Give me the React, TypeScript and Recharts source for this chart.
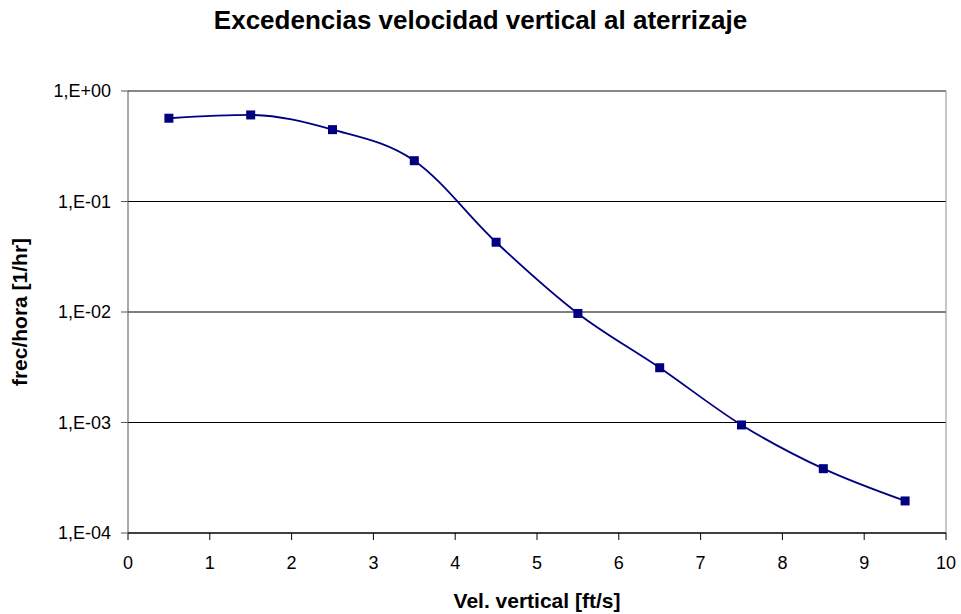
import { LineChart, Line, XAxis, YAxis, CartesianGrid, ReferenceLine } from 'recharts';

const velocidad = [0.5, 1.5, 2.5, 3.5, 4.5, 5.5, 6.5, 7.5, 8.5, 9.5];
const frecuencia = [0.567, 0.607, 0.447, 0.234, 0.0428, 0.0097, 0.00313, 0.00095, 0.000382, 0.000195];
const xTicks = [0, 1, 2, 3, 4, 5, 6, 7, 8, 9, 10];
const yTicks = [1e-4, 1e-3, 1e-2, 1e-1, 1];

const data = velocidad.map((v, i) => ({ v, f: frecuencia[i] }));

const fmtExp = (val: number) => {
  const e = Math.round(Math.log10(val));
  return `1,E${e >= 0 ? '+' : '-'}${String(Math.abs(e)).padStart(2, '0')}`;
};

const font = 'Arial, "Liberation Sans", sans-serif';

const SquareDot = (props: any) => {
  const { cx, cy } = props;
  if (cx == null || cy == null) return null;
  return <rect x={cx - 4.5} y={cy - 4.5} width={9} height={9} fill="#000080" />;
};

export default function App() {
  return (
    <div style={{ position: 'absolute', left: 0, top: 0, width: 961, height: 614, background: '#fff', fontFamily: font, overflow: 'hidden' }}>
      <div
        style={{
          position: 'absolute',
          top: 7,
          left: 0,
          width: 961,
          textAlign: 'center',
          fontWeight: 'bold',
          fontSize: 26,
          lineHeight: '26px',
          color: '#000',
        }}
      >
        Excedencias velocidad vertical al aterrizaje
      </div>
      <LineChart width={961} height={614} data={data} margin={{ top: 91, right: 15, left: 48, bottom: 31 }}>
        <CartesianGrid vertical={false} stroke="#000" strokeOpacity={1} />
        <ReferenceLine y={1} stroke="#909090" />
        <ReferenceLine x={10} stroke="#909090" />
        <XAxis
          dataKey="v"
          type="number"
          domain={[0, 10]}
          ticks={xTicks}
          interval={0}
          height={50}
          stroke="#000"
          tickSize={7}
          tickMargin={16}
          tick={{ fill: '#000', fontSize: 18, fontFamily: font }}
        />
        <YAxis
          scale="log"
          domain={[1e-4, 1]}
          ticks={yTicks}
          interval={0}
          allowDataOverflow
          width={80}
          stroke="#555"
          tickSize={7}
          tickMargin={10}
          tickFormatter={fmtExp}
          tick={{ fill: '#000', fontSize: 18, fontFamily: font }}
        />
        <Line
          type="monotone"
          dataKey="f"
          stroke="#000080"
          strokeWidth={1.8}
          dot={<SquareDot />}
          activeDot={false}
          isAnimationActive={false}
        />
      </LineChart>
      <div
        style={{
          position: 'absolute',
          top: 590,
          left: 387,
          width: 300,
          textAlign: 'center',
          fontWeight: 'bold',
          fontSize: 21,
          lineHeight: '21px',
          color: '#000',
        }}
      >
        Vel. vertical [ft/s]
      </div>
      <div
        style={{
          position: 'absolute',
          top: 301,
          left: -130,
          width: 300,
          textAlign: 'center',
          fontWeight: 'bold',
          fontSize: 21,
          lineHeight: '22px',
          color: '#000',
          transform: 'rotate(-90deg)',
        }}
      >
        frec/hora [1/hr]
      </div>
    </div>
  );
}
